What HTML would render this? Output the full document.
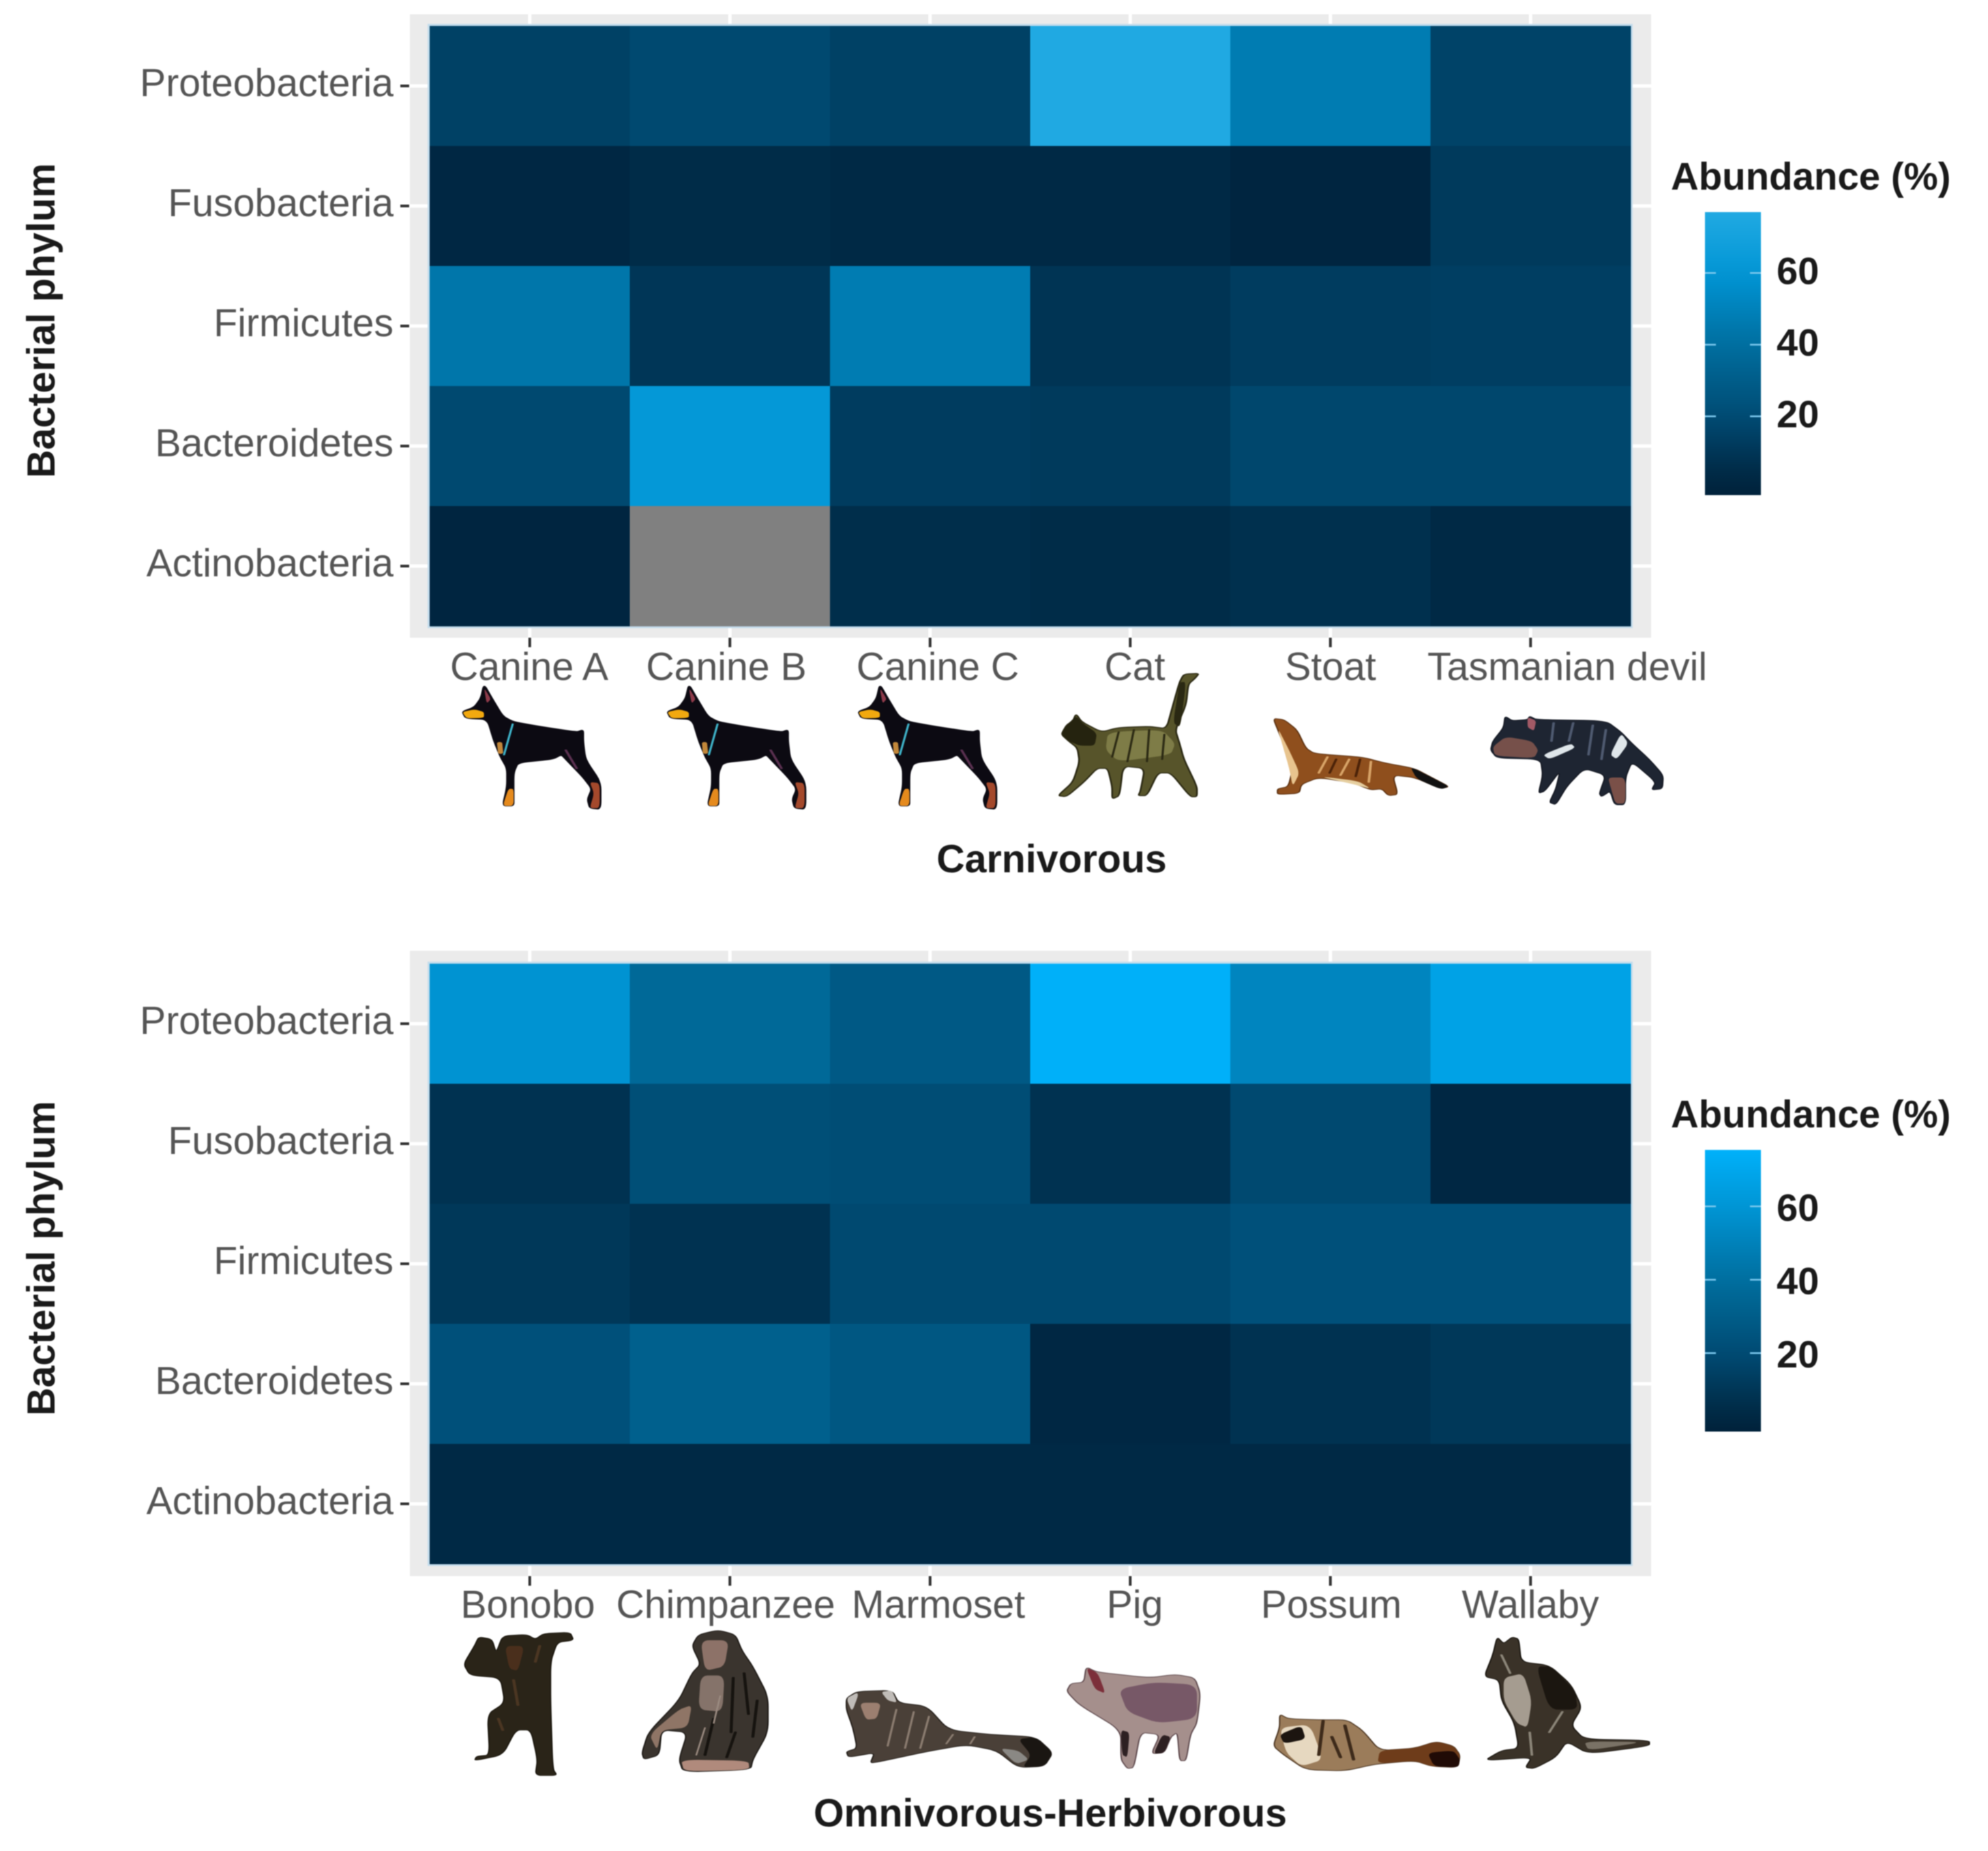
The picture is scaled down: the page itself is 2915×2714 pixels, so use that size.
<!DOCTYPE html>
<html lang="en">
<head>
<meta charset="utf-8">
<title>Bacterial phylum abundance heatmaps</title>
<style>
html,body{margin:0;padding:0;background:#fff;width:2915px;height:2714px;overflow:hidden}
svg{display:block;filter:blur(.7px)}
text{font-family:"Liberation Sans",sans-serif}
.hostlabel{font-size:57.2px;fill:#555;text-anchor:middle}
.title{font-size:57.3px;font-weight:bold;fill:#1a1a1a;text-anchor:middle}
.fur{fill:none;stroke-linecap:round}
</style>
</head>
<body>
<svg id="chart" xmlns="http://www.w3.org/2000/svg" width="2915" height="2714" viewBox="0 0 2915 2714">
<defs>
<g id="dog-shape">
<polygon fill="#0c0a12" stroke="#0c0a12" stroke-width="4" stroke-linejoin="round" points="172,310 190,370 215,450 240,475 300,495 385,520 400,510 400,560 405,640 440,740 440,860 415,855 410,815 420,770 400,720 365,650 350,620 330,640 250,655 240,700 240,800 240,845 215,845 225,760 225,680 210,630 195,560 180,465 130,460 122,430 150,410 165,370"/>
<polygon fill="#f2a90f" points="122,432 150,420 172,432 172,458 132,460"/>
<polygon fill="#8e3a4a" points="172,325 188,375 178,395"/>
<polygon fill="#e58a1d" points="215,845 240,845 240,770 228,770"/>
<polygon fill="#a4492c" points="415,855 438,855 438,745 415,740 425,790"/>
<path class="fur" stroke="#3fb3c9" stroke-width="5" d="M238,485 L218,620"/>
<path class="fur" stroke="#c2873a" stroke-width="12" d="M208,570 L210,610"/>
<path class="fur" stroke="#5a3050" stroke-width="6" d="M360,600 L385,680"/>
</g>
</defs>

<g id="panels"></g>

<g>
<text class="hostlabel" x="776" y="997">Canine A</text>
<text class="hostlabel" x="1065" y="997">Canine B</text>
<text class="hostlabel" x="1375" y="997">Canine C</text>
<text class="hostlabel" x="1664" y="997">Cat</text>
<text class="hostlabel" x="1951" y="997">Stoat</text>
<text class="hostlabel" x="2298" y="997">Tasmanian devil</text>
</g>
<g>
<text class="hostlabel" x="774" y="2372">Bonobo</text>
<text class="hostlabel" x="1064" y="2372">Chimpanzee</text>
<text class="hostlabel" x="1376" y="2372">Marmoset</text>
<text class="hostlabel" x="1664" y="2372">Pig</text>
<text class="hostlabel" x="1952" y="2372">Possum</text>
<text class="hostlabel" x="2244" y="2372">Wallaby</text>
</g>

<text class="title" x="1542" y="1279">Carnivorous</text>
<text class="title" x="1540" y="2678">Omnivorous-Herbivorous</text>
<text class="title" transform="translate(80,470) rotate(-90)">Bacterial phylum</text>
<text class="title" transform="translate(80,1845) rotate(-90)">Bacterial phylum</text>

<!-- carnivorous animals, drawn in a stretched local coordinate frame -->
<g transform="translate(600,900) scale(.6378,.3333)">
<use href="#dog-shape"/>
<use href="#dog-shape" x="471"/>
<use href="#dog-shape" x="910"/>
</g>
<g transform="translate(1500,900) scale(.6378,.3333)">
<g>
<polygon fill="#57542a" stroke="#2c2a14" stroke-width="4" stroke-linejoin="round" points="122,440 135,475 180,520 220,500 290,495 330,505 345,400 360,300 370,265 405,262 395,285 380,310 375,400 350,510 360,570 370,640 400,760 400,805 385,805 340,700 310,700 285,800 265,800 270,780 280,680 230,670 222,800 205,815 205,760 195,680 170,680 140,740 100,805 80,800 115,740 130,650 125,590 105,560 88,530 100,490 115,470"/>
<polygon fill="#25230f" points="122,450 135,478 170,525 165,580 130,580 105,560 88,530 100,490"/>
<polygon fill="#8b8a52" opacity=".75" points="195,520 320,510 350,570 340,620 220,650 190,600"/>
<path class="fur" stroke="#2c2a14" stroke-width="5" d="M220,520 L205,630 M255,510 L240,650 M290,510 L285,650 M325,530 L320,640"/>
<polygon fill="#2a2812" points="345,480 360,300 375,300 362,500"/>
</g>
<g>
<polygon fill="#8f4f1d" stroke="#5a3010" stroke-width="3" stroke-linejoin="round" points="575,460 600,465 630,510 650,590 670,615 780,630 830,655 900,680 940,720 980,760 960,770 900,720 850,710 862,795 840,800 825,770 800,775 760,745 680,720 640,750 635,790 585,795 585,770 610,760 620,680 605,600 590,530"/>
<polygon fill="#e8c48e" points="585,500 612,600 636,700 620,760 612,680 600,600"/>
<polygon fill="#e6cfa0" points="680,715 770,735 800,770 760,750"/>
<polygon fill="#111" points="890,672 940,720 980,760 960,772 905,725"/>
<path class="fur" stroke="#d8a468" stroke-width="6" d="M700,630 L680,700 M750,640 L730,710 M800,650 L795,740"/>
<path class="fur" stroke="#4b2208" stroke-width="6" d="M720,640 L705,700 M775,640 L765,715"/>
</g>
<g>
<polygon fill="#1e2532" stroke="#141822" stroke-width="3" stroke-linejoin="round" points="1108,450 1125,470 1160,465 1165,450 1180,465 1340,470 1375,520 1400,570 1440,640 1472,710 1470,770 1445,775 1455,740 1400,650 1385,720 1385,840 1360,840 1350,780 1330,805 1325,790 1340,710 1290,680 1250,760 1225,840 1210,830 1225,770 1235,690 1200,780 1185,790 1195,710 1190,640 1090,635 1075,600 1080,560 1105,500"/>
<polygon fill="#76504a" points="1085,625 1080,585 1110,540 1170,560 1185,600 1175,635"/>
<polygon fill="#a35a66" points="1160,455 1180,470 1175,515 1160,500"/>
<polygon fill="#dfe6ea" points="1375,525 1392,570 1365,640 1350,620"/>
<polygon fill="#dfe6ea" points="1195,620 1260,570 1270,590 1210,640"/>
<path class="fur" stroke="#4f5a70" stroke-width="6" d="M1220,480 L1215,560 M1265,480 L1255,560 M1310,490 L1300,620 M1340,510 L1330,640"/>
<polygon fill="#7a5048" points="1345,720 1385,720 1385,835 1362,835 1352,770"/>
</g>
</g>

<!-- omnivorous / herbivorous animals -->
<g transform="translate(600,2280) scale(.6378,.3333)">
<g>
<polygon fill="#2a2418" stroke="#1b170e" stroke-width="3" stroke-linejoin="round" points="160,360 190,370 200,430 215,355 270,350 290,370 310,345 370,340 378,375 340,385 325,470 325,650 330,940 340,970 290,970 295,900 280,770 245,770 215,880 150,905 155,885 185,880 180,700 220,650 210,540 140,530 125,480 150,400"/>
<polygon fill="#4a2f1c" points="220,400 265,400 250,510 230,500"/>
<path class="fur" stroke="#4b3622" stroke-width="7" d="M240,550 L250,660 M205,720 L215,770 M300,400 L290,470"/>
</g>
<g>
<polygon fill="#3a342e" stroke="#1e1a16" stroke-width="3" stroke-linejoin="round" points="665,350 710,330 750,350 765,420 790,490 825,620 825,780 790,900 785,945 630,955 620,900 640,780 580,770 575,880 540,900 535,870 550,780 620,640 650,520 670,480 650,400"/>
<polygon fill="#8d7268" points="670,375 735,375 725,490 680,510"/>
<polygon fill="#85736a" points="670,530 725,530 720,690 665,680"/>
<polygon fill="#b08a7c" points="625,900 780,905 782,945 632,952"/>
<polygon fill="#8f7566" points="620,680 650,660 640,760 580,770 570,860 552,790"/>
<path class="fur" stroke="#16130f" stroke-width="7" d="M770,520 L780,700 M745,540 L740,780 M700,720 L680,880 M750,780 L730,890 M800,640 L790,800"/>
<path class="fur" stroke="#9a8a80" stroke-width="4" d="M715,620 L700,740 M680,760 L660,880"/>
</g>
<g>
<polygon fill="#4a4038" stroke="#221d18" stroke-width="3" stroke-linejoin="round" points="1005,630 1030,600 1110,595 1125,650 1190,665 1240,770 1340,790 1440,800 1480,870 1460,930 1400,935 1350,860 1280,835 1190,865 1080,910 1060,915 1070,870 1010,890 1005,865 1030,850 1020,760 1005,680"/>
<polygon fill="#c0bcb8" points="1005,630 1030,605 1032,620 1018,690"/>
<polygon fill="#c0bcb8" points="1085,602 1110,595 1122,650 1100,640"/>
<polygon fill="#9c7f70" points="1035,650 1085,650 1075,720 1050,725"/>
<polygon fill="#1a1612" points="1400,810 1440,800 1480,870 1460,930 1410,935 1430,880"/>
<polygon fill="#8a8884" points="1358,850 1400,860 1425,900 1395,920"/>
<path class="fur" stroke="#8b7c70" stroke-width="5" d="M1120,680 L1100,840 M1160,690 L1140,850 M1195,710 L1175,850 M1250,790 L1235,830 M1300,800 L1290,830"/>
</g>
</g>
<g transform="translate(1500,2280) scale(.6378,.3333)">
<g>
<polygon fill="#a58f8c" stroke="#5f4a4e" stroke-width="3" stroke-linejoin="round" points="145,492 170,515 290,540 350,525 395,540 408,610 400,740 385,790 375,905 360,905 355,780 340,800 325,870 295,875 315,790 270,780 255,935 240,940 225,900 225,770 130,660 100,600 110,565 140,560"/>
<polygon fill="#6b4a5e" opacity=".8" points="220,590 300,560 400,570 400,720 310,740 240,690"/>
<polygon fill="#7c2f3a" points="145,495 172,518 190,610 165,590"/>
<polygon fill="#2d2022" points="225,770 245,780 240,890 228,880"/>
<polygon fill="#2d2022" points="320,790 340,800 325,870 300,875"/>
</g>
<g>
<polygon fill="#9b7c5a" stroke="#4a3420" stroke-width="3" stroke-linejoin="round" points="590,700 610,720 680,725 745,725 780,770 820,860 900,850 950,820 990,840 1005,880 1000,935 940,930 900,905 810,920 740,950 650,945 600,880 575,840 590,760"/>
<polygon fill="#6e3c1a" points="820,860 900,850 950,820 990,840 1005,880 1000,935 940,930 900,905 815,918"/>
<polygon fill="#200b06" points="930,870 990,860 1005,900 1000,935 945,930"/>
<polygon fill="#e6d8c0" points="590,760 660,745 690,900 640,930 605,870"/>
<polygon fill="#1c1510" points="590,790 640,750 650,810 600,830"/>
<path class="fur" stroke="#3d2a1a" stroke-width="8" d="M690,730 L680,880 M740,750 L760,900 M710,800 L730,890"/>
</g>
<g>
<polygon fill="#3a3228" stroke="#1a1610" stroke-width="3" stroke-linejoin="round" points="1090,360 1105,390 1125,360 1140,370 1145,470 1210,485 1260,570 1285,670 1260,750 1290,810 1440,815 1440,840 1300,875 1250,820 1225,890 1175,940 1155,935 1170,890 1060,905 1100,860 1140,850 1130,740 1100,640 1095,550 1060,535 1080,440"/>
<polygon fill="#a59c90" points="1105,540 1150,520 1170,640 1160,760 1135,740 1105,640"/>
<polygon fill="#1b1610" points="1180,490 1215,490 1270,600 1275,680 1210,680"/>
<polygon fill="#7a7266" points="1290,820 1430,822 1300,860"/>
<path class="fur" stroke="#8b8578" stroke-width="6" d="M1240,690 L1210,780 M1165,780 L1170,880 M1100,440 L1120,520"/>
</g>
</g>
</svg>

<script>
// Shared categories (top row first)
const phyla = ["Proteobacteria", "Fusobacteria", "Firmicutes", "Bacteroidetes", "Actinobacteria"];
const carnivoreHosts = ["Canine A", "Canine B", "Canine C", "Cat", "Stoat", "Tasmanian devil"];
const omnivoreHosts = ["Bonobo", "Chimpanzee", "Marmoset", "Pig", "Possum", "Wallaby"];

// Abundance (%); null is the grey missing cell
const carnivoreProteobacteria = [15, 19, 15, 76, 47, 16];
const carnivoreFusobacteria = [3, 5, 4, 4, 2, 12];
const carnivoreFirmicutes = [44, 10, 47, 9, 13, 14];
const carnivoreBacteroidetes = [19, 62, 13, 12, 18, 18];
const carnivoreActinobacteria = [2, null, 6, 5, 7, 4];

const omnivoreProteobacteria = [59, 37, 28, 75, 52, 67];
const omnivoreFusobacteria = [8, 22, 21, 8, 19, 3];
const omnivoreFirmicutes = [11, 8, 19, 19, 23, 23];
const omnivoreBacteroidetes = [23, 32, 27, 3, 8, 11];
const omnivoreActinobacteria = [4, 4, 4, 4, 4, 4];

// Colour legend
const legendTicks = [20, 40, 60];
const legendTickLabels = ["20", "40", "60"];
const carnivoreLegendRange = [-2, 77];
const omnivoreLegendRange = [-1.4, 75.4];
const legendTitle = "Abundance (%)";

const SVGNS = "http://www.w3.org/2000/svg";
const root = document.getElementById("panels");

function make(tag, attrs, parent) {
  const node = document.createElementNS(SVGNS, tag);
  for (const key in attrs) node.setAttribute(key, attrs[key]);
  parent.appendChild(node);
  return node;
}

// Piecewise colour scale sampled from the legend bar
function colorScale(topHex) {
  const domain = [0, 20, 40, 60, 76];
  const colors = ["#00213a", "#004b73", "#006e9f", "#0095d5", topHex];
  const rgb = h => [1, 3, 5].map(i => parseInt(h.substr(i, 2), 16));
  return function (v) {
    const t = Math.max(domain[0], Math.min(domain[domain.length - 1], v));
    let i = 0;
    while (i < domain.length - 2 && t > domain[i + 1]) i++;
    const f = (t - domain[i]) / (domain[i + 1] - domain[i]);
    const a = rgb(colors[i]);
    const b = rgb(colors[i + 1]);
    return "rgb(" + a.map((c, k) => Math.round(c + (b[k] - c) * f)).join(",") + ")";
  };
}

function drawPanel(cfg) {
  const g = make("g", {}, root);
  
  

  const heatX = 630, heatW = 1761, heatH = 880;
  const heatY = cfg.top;
  const colW = heatW / cfg.hosts.length;
  const rowH = heatH / phyla.length;
  const xCenter = i => heatX + colW * (i + 0.5);
  const yCenter = j => heatY + rowH * (j + 0.5);
  const color = colorScale(cfg.topColor);

  const panelTop = cfg.panelTop, panelBottom = cfg.panelBottom;
  const panel = make("rect", { x: 601, y: panelTop, width: 1820, height: panelBottom - panelTop, fill: "#ebebeb" }, g);
  
  

  // White gridlines visible in the panel margin
  cfg.hosts.forEach((h, i) => {
    const line = make("line", { x1: xCenter(i), x2: xCenter(i), y1: panelTop, y2: panelBottom, stroke: "#fff", "stroke-width": 5 }, g);
    
    
  });
  phyla.forEach((p, j) => {
    const line = make("line", { x1: 601, x2: 2421, y1: yCenter(j), y2: yCenter(j), stroke: "#fff", "stroke-width": 5 }, g);
    
    
  });

  const halo = make("rect", { x: heatX - 1.5, y: heatY - 1.5, width: heatW + 3, height: heatH + 3, fill: "none", stroke: "#c3dcec", "stroke-width": 3 }, g);
  
  

  // Cells
  cfg.values.forEach((row, j) => {
    row.forEach((v, i) => {
      const cell = make("rect", {
        x: heatX + colW * i, y: heatY + rowH * j, width: colW + 0.4, height: rowH + 0.4,
        fill: v === null ? "#808080" : color(v)
      }, g);
      
      
    });
  });

  // Y axis
  phyla.forEach((p, j) => {
    const tick = make("line", { x1: 587, x2: 600, y1: yCenter(j), y2: yCenter(j), stroke: "#333", "stroke-width": 4 }, g);
    
    
    const label = make("text", { x: 577, y: yCenter(j) + 15, "text-anchor": "end", "font-size": 57.2, fill: "#555" }, g);
    
    
    label.textContent = p;
  });

  // X axis ticks
  cfg.hosts.forEach((h, i) => {
    const tick = make("line", { x1: xCenter(i), x2: xCenter(i), y1: panelBottom, y2: panelBottom + 14, stroke: "#333", "stroke-width": 4 }, g);
    
    
  });

  // Legend
  const legX = 2500, legW = 82;
  const legTop = cfg.legendTop, legBottom = cfg.legendBottom;
  const legY = v => legBottom - (v - cfg.legendRange[0]) / (cfg.legendRange[1] - cfg.legendRange[0]) * (legBottom - legTop);

  const title = make("text", { x: 2450, y: legTop - 33, "font-size": 56.4, "font-weight": "bold", fill: "#1a1a1a" }, g);
  
  
  title.textContent = legendTitle;

  const gradId = cfg.name + "-gradient";
  const grad = make("linearGradient", { id: gradId, x1: 0, y1: 1, x2: 0, y2: 0 }, g);
  for (let k = 0; k <= 12; k++) {
    const v = cfg.legendRange[0] + (cfg.legendRange[1] - cfg.legendRange[0]) * k / 12;
    make("stop", { offset: k / 12, "stop-color": color(v) }, grad);
  }
  const bar = make("rect", { x: legX, y: legTop, width: legW, height: legBottom - legTop, fill: "url(#" + gradId + ")" }, g);
  
  

  legendTicks.forEach((v, k) => {
    const y = legY(v);
    const left = make("line", { x1: legX, x2: legX + 16, y1: y, y2: y, stroke: "#7cc8ee", "stroke-width": 2.5 }, g);
    
    
    const right = make("line", { x1: legX + legW - 16, x2: legX + legW, y1: y, y2: y, stroke: "#7cc8ee", "stroke-width": 2.5 }, g);
    
    
    const label = make("text", { x: 2605, y: y + cfg.legendLabelDy, "font-size": 56, "font-weight": "bold", fill: "#1a1a1a" }, g);
    
    
    label.textContent = legendTickLabels[k];
  });
}

drawPanel({
  name: "carnivorous",
  hosts: carnivoreHosts,
  values: [carnivoreProteobacteria, carnivoreFusobacteria, carnivoreFirmicutes, carnivoreBacteroidetes, carnivoreActinobacteria],
  top: 38, panelTop: 21, panelBottom: 935,
  topColor: "#20a9e2",
  legendTop: 311, legendBottom: 726, legendRange: carnivoreLegendRange, legendLabelDy: 16
});

drawPanel({
  name: "omnivorous-herbivorous",
  hosts: omnivoreHosts,
  values: [omnivoreProteobacteria, omnivoreFusobacteria, omnivoreFirmicutes, omnivoreBacteroidetes, omnivoreActinobacteria],
  top: 1413, panelTop: 1394, panelBottom: 2311,
  topColor: "#00b2fb",
  legendTop: 1686, legendBottom: 2099, legendRange: omnivoreLegendRange, legendLabelDy: 21
});

// Round the corners of the animal illustrations so they read as organic shapes
document.querySelectorAll("polygon").forEach(function (poly) {
  const nums = poly.getAttribute("points").trim().split(/[\s,]+/).map(Number);
  const pts = [];
  for (let i = 0; i < nums.length; i += 2) pts.push([nums[i], nums[i + 1]]);
  const n = pts.length;
  const mix = (a, b, t) => [a[0] + (b[0] - a[0]) * t, a[1] + (b[1] - a[1]) * t];
  let d = "";
  for (let i = 0; i < n; i++) {
    const prev = pts[(i - 1 + n) % n], cur = pts[i], next = pts[(i + 1) % n];
    const a = mix(cur, prev, 0.3), b = mix(cur, next, 0.3);
    d += (i === 0 ? "M" : "L") + a[0] + "," + a[1] + " Q" + cur[0] + "," + cur[1] + " " + b[0] + "," + b[1] + " ";
  }
  const path = document.createElementNS(SVGNS, "path");
  for (const attr of Array.from(poly.attributes)) {
    if (attr.name !== "points") path.setAttribute(attr.name, attr.value);
  }
  path.setAttribute("d", d + "Z");
  poly.parentNode.replaceChild(path, poly);
});
</script>
</body>
</html>
